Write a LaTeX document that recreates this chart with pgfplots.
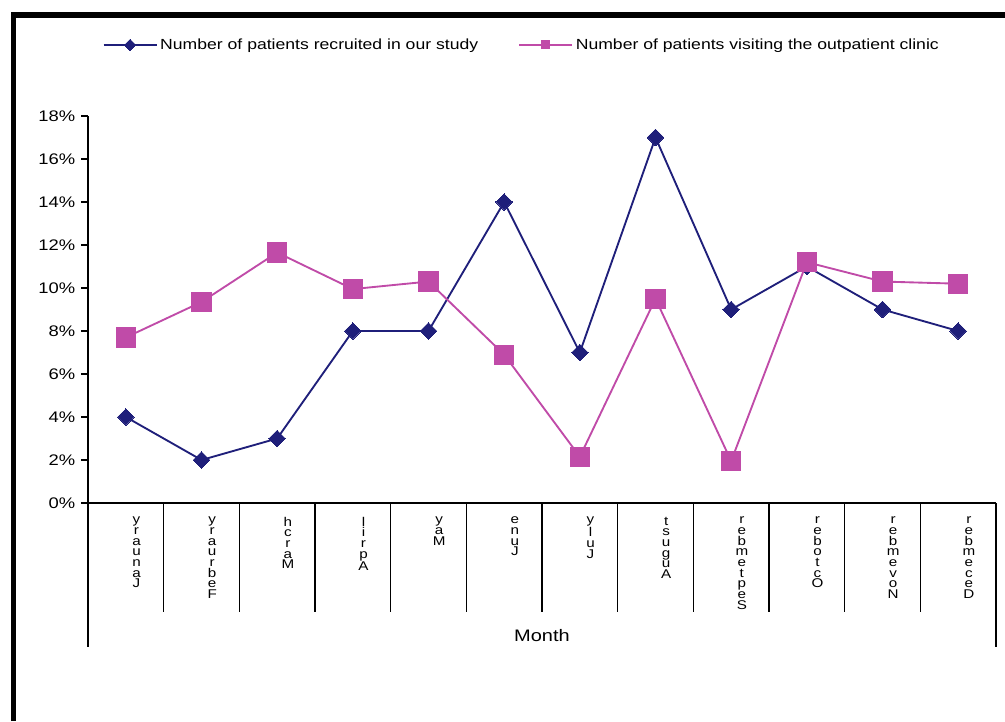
\documentclass[border=0pt]{standalone}
\usepackage{pgfplots}
\pgfplotsset{compat=1.18}
\usepackage{fontspec}
\setmainfont[FakeStretch=1.2]{Liberation Sans}
\definecolor{navy}{RGB}{31,31,122}
\definecolor{pinkm}{RGB}{192,75,168}
\begin{document}
\begin{tikzpicture}
	\useasboundingbox (0,0) rectangle (753.75pt,540.75pt);
	% outer frame (only top and left visible)
	\draw[line width=4pt] (10pt,0) -- (10pt,529.5pt) -- (753.75pt,529.5pt);
	\begin{axis}[%
		at={(66pt,163.5pt)}, anchor=south west,
		scale only axis,
		width=681pt, height=290.25pt,
		xmin=-0.5, xmax=11.5,
		ymin=0, ymax=18,
		axis x line*=bottom, axis y line*=left,
		axis line style={line width=0.9pt},
		ytick={0,2,...,18},
		yticklabel={\pgfmathprintnumber{\tick}\%},
		yticklabel style={font=\fontsize{11.5}{13}\selectfont, xshift=-1pt},
		/pgf/number format/assume math mode=true,
		y tick style={line width=0.9pt, black},
		major tick length=5pt,
		tick align=outside,
		xtick={0,...,11},
		x tick style={draw=none},
		xticklabels={{y\\r\\a\\u\\n\\a\\J},{y\\r\\a\\u\\r\\b\\e\\F},{h\\c\\r\\a\\M},{l\\i\\r\\p\\A},{y\\a\\M},{e\\n\\u\\J},{y\\l\\u\\J},{t\\s\\u\\g\\u\\A},{r\\e\\b\\m\\e\\t\\p\\e\\S},{r\\e\\b\\o\\t\\c\\O},{r\\e\\b\\m\\e\\v\\o\\N},{r\\e\\b\\m\\e\\c\\e\\D}},
		xticklabel style={align=center, anchor=north, font=\fontsize{9.5}{8}\selectfont, xshift=8pt, yshift=-2pt},
		xlabel={Month},
		xlabel style={font=\fontsize{12.5}{14}\selectfont, at={(rel axis cs:0.5,0)}, anchor=north, yshift=-91pt},
		clip=false,
		legend columns=2,
		legend style={draw=none, fill=none, at={(rel axis cs:0.478,1.1835)}, anchor=center,
			font=\fontsize{11}{13}\selectfont, /tikz/every even column/.append style={column sep=28pt}},
		legend image code/.code={\draw[mark repeat=2,mark phase=2,mark size=3pt] plot coordinates {(0cm,0cm)(0.7cm,0cm)(1.4cm,0cm)};},
	]
		\addplot[navy, line width=1.4pt, mark=square*, mark size=4.4pt, mark options={rotate=45, line width=0pt}]
		table {
			x y
			0 4
			1 2
			2 3
			3 8
			4 8
			5 14
			6 7
			7 17
			8 9
			9 11
			10 9
			11 8
		};
		\addlegendentry{Number of patients recruited in our study}
		\addplot[pinkm, line width=1.4pt, mark=square*, mark size=7.2pt, mark options={line width=0pt}]
		table {
			x y
			0 7.7
			1 9.35
			2 11.65
			3 9.95
			4 10.3
			5 6.9
			6 2.15
			7 9.5
			8 1.95
			9 11.2
			10 10.3
			11 10.2
		};
		\addlegendentry{Number of patients visiting the outpatient clinic}
		% category separators below the axis
		\pgfplotsinvokeforeach{-0.5,0.5,...,11.5}{
			\draw[line width=0.9pt] (axis cs:#1,0) -- ([yshift=-82pt]axis cs:#1,0);
		}
		\draw[line width=0.9pt] (axis cs:-0.5,0) -- ([yshift=-108pt]axis cs:-0.5,0);
		\draw[line width=0.9pt] (axis cs:11.5,0) -- ([yshift=-108pt]axis cs:11.5,0);
	\end{axis}
\end{tikzpicture}
\end{document}
